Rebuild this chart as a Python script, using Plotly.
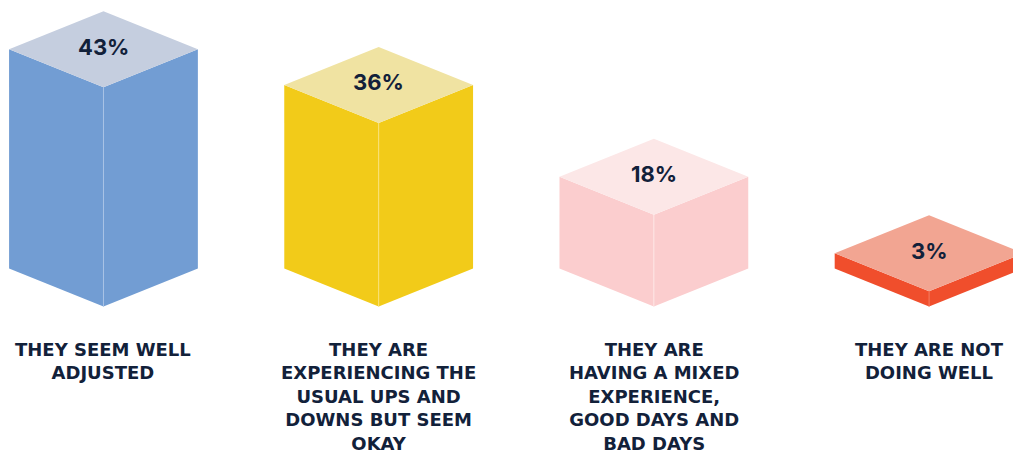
import plotly.graph_objects as go

# Chart data
categories = [
    "THEY SEEM WELL<br>ADJUSTED",
    "THEY ARE<br>EXPERIENCING THE<br>USUAL UPS AND<br>DOWNS BUT SEEM<br>OKAY",
    "THEY ARE<br>HAVING A MIXED<br>EXPERIENCE,<br>GOOD DAYS AND<br>BAD DAYS",
    "THEY ARE NOT<br>DOING WELL",
]
values = [43, 36, 18, 3]
side_colors = ["#729DD3", "#F2CB19", "#FBCDCE", "#F04E2C"]
top_colors = ["#C5CEDF", "#F0E3A2", "#FCE7E7", "#F2A592"]
edge_colors = ["#A9C3E6", "#F8E27A", "#FDE6E6", "#F47A5E"]

navy = "#12213A"
w = 0.343   # half width of the prism (x units)
d = 7.45    # half height of the top diamond (y units)

fig = go.Figure()

# Build each isometric bar from three polygons
for i, (v, sc, tc, ec) in enumerate(zip(values, side_colors, top_colors, edge_colors)):
    cx = i
    left_x = [cx - w, cx, cx, cx - w, cx - w]
    left_y = [d, 0, v, v + d, d]
    right_x = [cx, cx + w, cx + w, cx, cx]
    right_y = [0, d, v + d, v, 0]
    top_x = [cx, cx - w, cx, cx + w, cx]
    top_y = [v, v + d, v + 2 * d, v + d, v]
    for px, py, col in [(left_x, left_y, sc), (right_x, right_y, sc), (top_x, top_y, tc)]:
        fig.add_trace(go.Scatter(x=px, y=py, fill="toself", fillcolor=col, mode="lines",
                                 line=dict(width=0, color=col), hoverinfo="skip", showlegend=False))
    # thin highlight on the front vertical edge
    fig.add_trace(go.Scatter(x=[cx, cx], y=[0, v], mode="lines", line=dict(width=1, color=ec),
                             hoverinfo="skip", showlegend=False))
    # percentage label on top face
    fig.add_annotation(x=cx, y=v + d + 0.5, text="%d%%" % v, showarrow=False,
                       font=dict(family="Inter", size=22, color=navy, weight=700))
    # category label under the bar
    fig.add_annotation(x=cx, y=-6.0, text=categories[i], showarrow=False,
                       yanchor="top", align="center",
                       font=dict(family="DejaVu Sans", size=18, color=navy, weight=700))

fig.update_layout(
    width=1013, height=454,
    margin=dict(l=0, r=0, t=0, b=0),
    paper_bgcolor="white", plot_bgcolor="white",
    xaxis=dict(range=[-0.376, 3.305], visible=False, fixedrange=True),
    yaxis=dict(range=[-28.92, 60.1], visible=False, fixedrange=True),
)

# remove the default page margin so the figure fills the window
fig.write_html("out.html", config={"displayModeBar": False},
               post_script="document.body.style.margin='0';")
